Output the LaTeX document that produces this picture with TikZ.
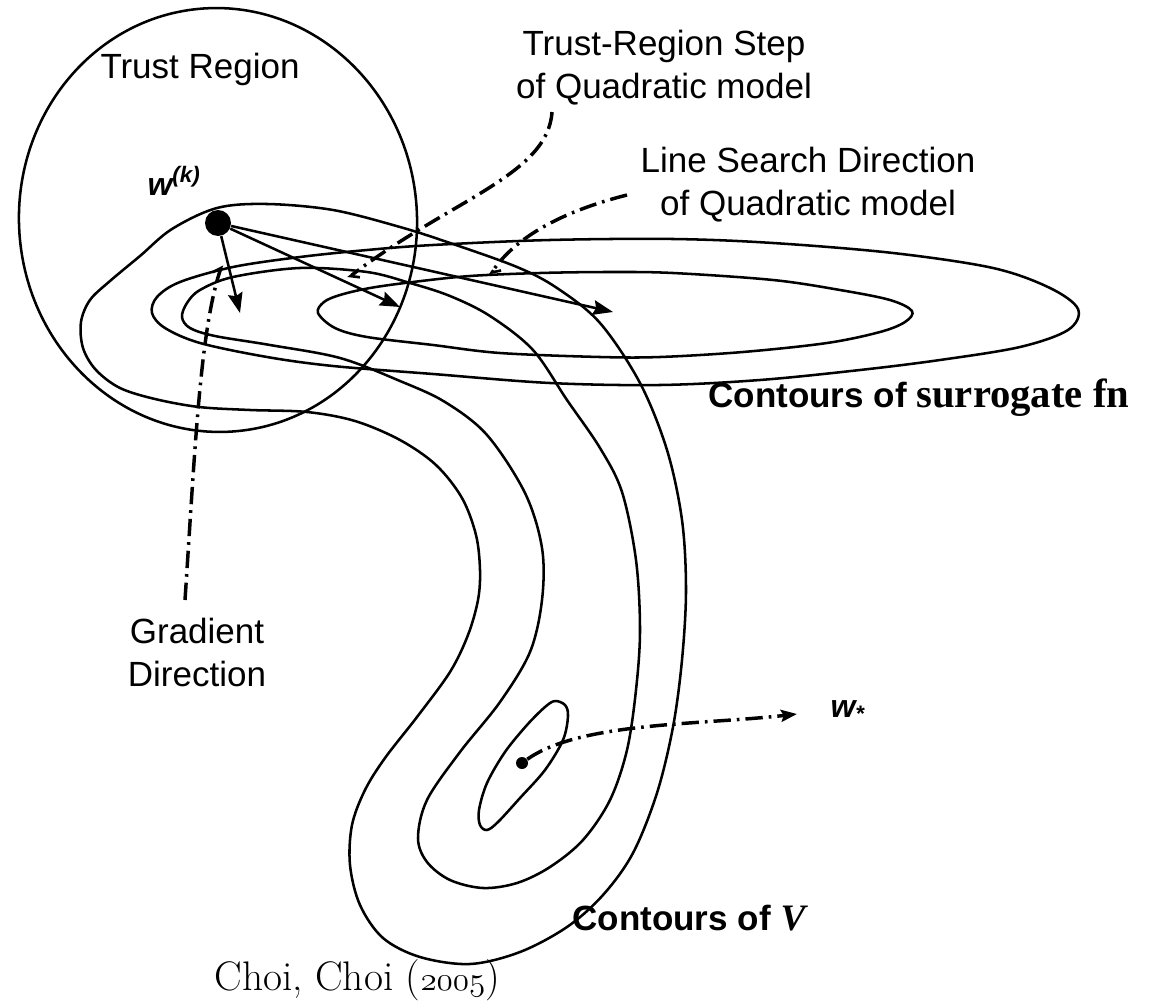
\documentclass[tikz,border=0pt]{standalone}
\usepackage{fontspec}
\setsansfont{Liberation Sans}
\newfontfamily\serifbold{Liberation Serif}
\usetikzlibrary{arrows.meta}

\tikzset{every picture/.style={line width=0.75pt}}
\tikzset{
  contour/.style={line width=1.9pt, line join=round},
  leader/.style={line width=2.6pt, dash pattern={on 13pt off 4.5pt on 2pt off 4.5pt}},
  stepline/.style={line width=1.9pt, -{Stealth[length=15pt,width=11pt,inset=2pt]}},
  barbend/.style={-{Straight Barb[left,length=5pt,width=10pt,line width=2pt]}},
  lbl/.style={font=\sffamily\fontsize{26.25}{32.25}\selectfont, inner sep=0pt, align=center},
  dotnode/.style={circle, fill=black, inner sep=0pt}
}
\newcommand{\oldnums}[1]{{\fontencoding{OML}\fontfamily{cmm}\fontseries{m}\fontshape{it}\selectfont #1}}

\begin{document}
\begin{tikzpicture}[x=0.75pt,y=0.75pt,yscale=-1,xscale=1]
\useasboundingbox (0,0) rectangle (1161,1003);

%Shape: Ellipse (trust region)
\draw[contour, rotate around={-4:(218,220)}] (218,220) ellipse [x radius=199, y radius=212];

%Curve Lines: contours of surrogate fn
\draw[contour] plot[smooth cycle, tension=0.55] coordinates {(318,313) (324,302) (340,295) (370,288) (413,282) (470,276) (540,273) (610,272) (673,273) (773,280) (840,290) (890,300) (912,311) (905,322) (880,332) (827,343) (743,352) (660,357) (600,357) (500,353) (433,345) (367,337) (335,328)};
\draw[contour] plot[smooth cycle, tension=0.55] coordinates {(152,313) (157,297) (180,282) (233,267) (300,257) (367,250) (433,245) (550,240) (673,239) (773,243) (893,253) (993,268) (1050,288) (1078,309) (1068,330) (1020,347) (940,360) (860,370) (760,380) (660,385) (550,383) (433,374) (333,366) (267,357) (200,343) (165,328)};

%Curve Lines: contours of V
\draw[contour] plot[smooth cycle, tension=0.55] coordinates {(217,208) (267,204) (333,210) (400,227) (450,243) (517,267) (557,288) (600,323) (640,383) (667,450) (682,520) (686,590) (682,660) (673,727) (657,793) (633,853) (603,895) (567,927) (520,952) (470,964) (420,957) (383,938) (360,905) (350,865) (352,825) (365,790) (385,758) (417,717) (450,672) (468,635) (478,600) (480,570) (476,535) (462,498) (436,465) (400,440) (355,421) (307,412) (250,410) (199,407) (155,399) (120,388) (96,370) (83,348) (81,322) (90,300) (110,281) (140,256) (172,229)};
\draw[contour] plot[smooth cycle, tension=0.55] coordinates {(182,317) (187,303) (200,290) (233,277) (300,268) (367,272) (410,283) (450,296) (490,316) (533,350) (567,400) (600,448) (622,492) (636,560) (640,630) (636,690) (627,750) (610,800) (583,840) (550,867) (517,883) (483,888) (450,880) (427,862) (418,838) (427,800) (460,752) (500,702) (530,652) (542,600) (542,548) (525,493) (487,435) (445,402) (400,381) (340,358) (270,345) (215,336) (190,328)};
\draw[contour] plot[smooth cycle, tension=0.55] coordinates {(555,701) (565,705) (568,716) (563,740) (545,770) (520,798) (498,822) (487,830) (480,825) (479,810) (487,783) (505,752) (527,725) (545,707)};

%Points
\node[dotnode, minimum size=19.5pt] (wk) at (218,223) {};
\node[dotnode, minimum size=9pt] (wmin) at (522,763) {};

%Arrow tips and leader ends
\coordinate (gradtip) at (240,313);
\coordinate (trstip) at (400,307);
\coordinate (lsdtip) at (613,312);
\coordinate (gradend) at (222,265);
\coordinate (trsend) at (348,278);
\coordinate (lsdend) at (490,275);
\coordinate (gradfoot) at (185,600);
\coordinate (trsfoot) at (552,112);
\coordinate (lsdfoot) at (627,195);
\coordinate (wstartip) at (797,714);

%Straight Lines: steps from w(k)
\draw[stepline] (wk) -- (gradtip);
\draw[stepline] (wk) -- (trstip);
\draw[stepline] (wk) -- (lsdtip);

%Dash-dot leaders
\draw[leader, barbend] (gradfoot) .. controls (195,450) and (200,330) .. (gradend);
\draw[leader, barbend] (trsfoot) .. controls (548,175) and (450,200) .. (trsend);
\draw[leader, barbend] (lsdfoot) .. controls (560,212) and (515,238) .. (lsdend);
\draw[leader, -{Stealth[length=12pt,width=9pt,inset=2pt]}] (wmin) .. controls (580,722) and (700,725) .. (wstartip);

% Text Node
\node[lbl, anchor=base west] (trlbl) at (100,78) {Trust Region};
\node[lbl, anchor=base west, font=\sffamily\bfseries\itshape\fontsize{24}{28}\selectfont] (wklbl) at (147,195) {w\textsuperscript{(k)}};
\node[lbl] (trslbl) at (664,68) {Trust-Region Step\\of Quadratic model};
\node[lbl] (lsdlbl) at (808,185) {Line Search Direction\\of Quadratic model};
\node[lbl] (gradlbl) at (197,652) {Gradient\\Direction};
\node[lbl, anchor=base west] (surlbl) at (708,407) {\bfseries Contours of {\serifbold\fontsize{30.5}{34}\selectfont surrogate fn}};
\node[lbl, anchor=base west] (vlbl) at (572,930) {\bfseries Contours of {\serifbold\itshape\fontsize{28}{32}\selectfont V}};
\node[lbl, anchor=base west, font=\sffamily\bfseries\itshape\fontsize{24}{28}\selectfont] (wstarlbl) at (830,717) {w\textsubscript{*}};
\node[anchor=base west, inner sep=0pt, font=\fontsize{31}{36}\selectfont] (cite) at (214,990) {Choi, Choi (\oldnums{2005})};

\end{tikzpicture}
\end{document}
